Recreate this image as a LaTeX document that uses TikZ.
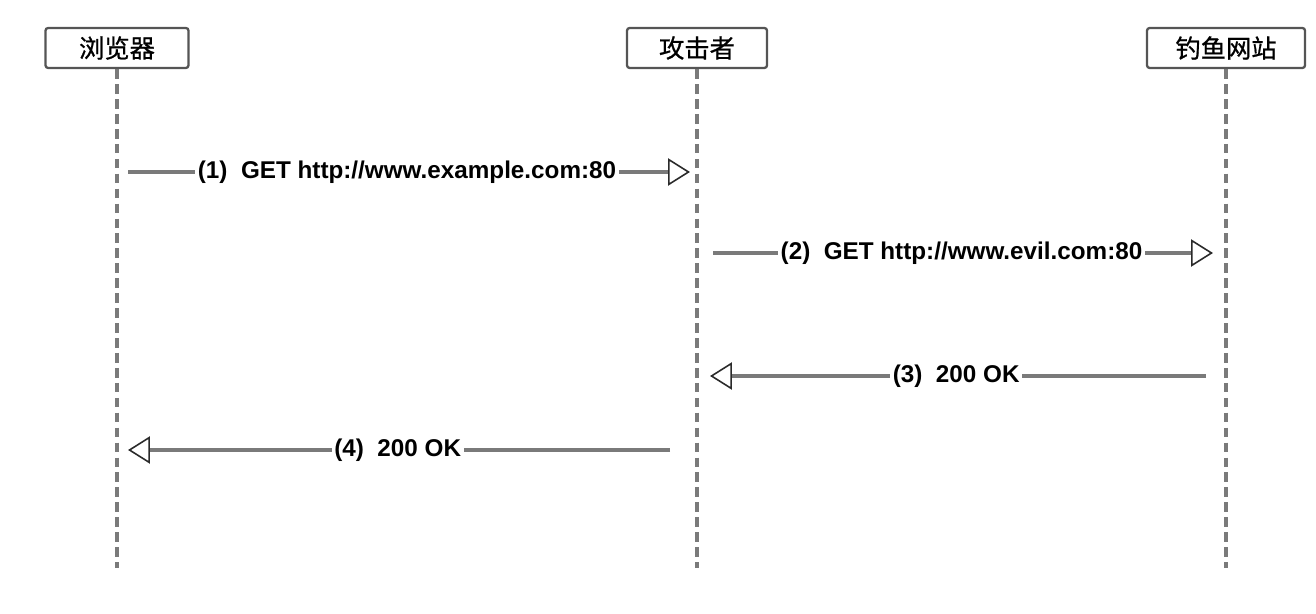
\documentclass[tikz,border=0pt]{standalone}
\usepackage{fontspec}
\setmainfont{Liberation Sans}
\newfontfamily\cjkfont[FakeBold=0.8]{Noto Sans CJK SC}
\usepackage{tikz}
\usetikzlibrary{arrows.meta,positioning}
\usepackage{xcolor}
\definecolor{LineGray}{HTML}{7A7A7A}
\definecolor{BoxGray}{HTML}{555555}
\definecolor{TipGray}{HTML}{2A2A2A}
\tikzset{
  actorbox/.style={draw=BoxGray, line width=1.3pt, rounded corners=1.5pt,
    minimum height=0.8cm, minimum width=#1, inner sep=0pt,
    font=\cjkfont\fontsize{14.4}{16}\selectfont, fill=white},
  actorbox/.default={2.8cm},
  lifeline/.style={draw=LineGray, line width=2pt, dash pattern=on 5.5pt off 3pt},
  msgarr/.style={-{Triangle[length=12.5pt, width=15.5pt, color=TipGray, fill=white, line width=0.9pt]},
    line width=2pt, color=LineGray},
  msglbl/.style={fill=white, inner xsep=1.5pt, inner ysep=1pt, text=black,
    font=\bfseries\fontsize{13.8}{16}\selectfont},
}

\begin{document}
\begin{tikzpicture}
  \useasboundingbox (0,0) rectangle (26.32,-12.28);
  \node[actorbox=2.86cm] (brw) at (2.34,-0.96) {浏览器};
  \node[actorbox=2.8cm] (atk) at (13.94,-0.96) {攻击者};
  \node[actorbox=3.16cm] (fish) at (24.52,-0.96) {钓鱼网站};
  \coordinate (brwend) at (2.34,-11.36);
  \coordinate (atkend) at (13.94,-11.36);
  \coordinate (fishend) at (24.52,-11.36);
  \draw[lifeline] (brw) -- (brwend);
  \draw[lifeline] (atk) -- (atkend);
  \draw[lifeline] (fish) -- (fishend);
  \coordinate (b1) at (2.34,-3.44);
  \coordinate (a1) at (13.94,-3.44);
  \coordinate (a2) at (13.94,-5.06);
  \coordinate (f2) at (24.52,-5.06);
  \coordinate (f3) at (24.52,-7.52);
  \coordinate (a3) at (13.94,-7.52);
  \coordinate (a4) at (13.94,-9.0);
  \coordinate (b4) at (2.34,-9.0);
  \draw[msgarr, shorten <=0.22cm, shorten >=0.14cm] (b1) --
    node[msglbl] {(1)~~GET http://www.example.com:80} (a1);
  \draw[msgarr, shorten <=0.32cm, shorten >=0.26cm] (a2) --
    node[msglbl] {(2)~~GET http://www.evil.com:80} (f2);
  \draw[msgarr, shorten <=0.4cm, shorten >=0.26cm] (f3) --
    node[msglbl, pos=0.51] {(3)~~200 OK} (a3);
  \draw[msgarr, shorten <=0.54cm, shorten >=0.22cm] (a4) --
    node[msglbl, pos=0.516] {(4)~~200 OK} (b4);
\end{tikzpicture}
\end{document}
